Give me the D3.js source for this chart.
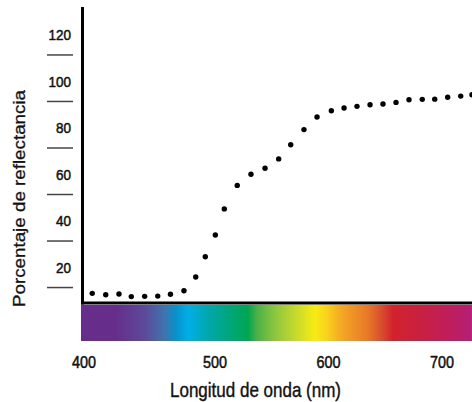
<!DOCTYPE html>
<html><head><meta charset="utf-8">
<script src="https://cdn.jsdelivr.net/npm/d3@7/dist/d3.min.js"></script>
<style>
html,body{margin:0;padding:0;background:#fff;}
svg{display:block;}
</style></head>
<body><svg id="c" width="472" height="402"></svg>
<script>
// ---- data ----
const wavelengths = [406.3,416.6,426.7,436.1,446.3,456.3,466.0,476.3,485.3,492.6,500.3,508.2,519.6,531.7,544.1,556.1,566.7,578.4,589.9,602.5,613.7,625.1,636.6,648.0,659.5,670.9,682.6,693.6,705.0,716.5,726.4];
const reflectance = [8.8,8.2,8.5,7.4,7.5,7.6,8.4,9.9,15.8,24.5,33.9,45.1,55.2,60.0,62.6,66.6,72.7,79.2,84.6,87.3,88.5,89.2,89.9,90.2,90.9,92.0,92.2,92.3,93.1,93.6,94.2];
const xTickValues = [400,500,600,700];
const yTickLabels = [20,40,60,80,100,120];
const yTickLines = [10,30,50,70,90,110];
const spectrumWl = [397.7,423.7,446.6,461.8,469.5,479.4,497,529.1,537,552.9,570.5,588.1,596.9,611.9,633.9,645.4,656.8,680.6,704.4,726.4];
const spectrumColors = ["#662d8a","#662d8a","#5c4a9a","#3f74b0","#0a8fc8","#00aee8","#00a7a5","#00a651","#4cb048","#8dc63f","#c5d92e","#f7ec13","#f9d71c","#f4a623","#e87a28","#d9532e","#d3222d","#c82040","#c11e5a","#b51f75"];

// ---- scales ----
const x = d3.scaleLinear().domain([400,500,700]).range([84,215,442]);
const y = d3.scaleLinear().domain([0,120]).range([313.8,34.7]);

const svg = d3.select("#c");
const font = "'Liberation Sans',Arial,Helvetica,sans-serif";

// spectrum gradient
const defs = svg.append("defs");
const w0 = x(spectrumWl[0]), w1 = x(spectrumWl[spectrumWl.length-1]);
const grad = defs.append("linearGradient").attr("id","spec")
  .attr("gradientUnits","userSpaceOnUse")
  .attr("x1", w0).attr("x2", w1).attr("y1",0).attr("y2",0);
spectrumWl.forEach((w,i)=>{
  grad.append("stop").attr("offset", (x(w)-w0)/(w1-w0)).attr("stop-color", spectrumColors[i]);
});
svg.append("rect").attr("x", w0).attr("y",305).attr("width", w1-w0).attr("height",36).attr("fill","url(#spec)");

// axes lines
svg.append("line").attr("x1",82.5).attr("x2",82.5).attr("y1",7).attr("y2",304.5).attr("stroke","#000").attr("stroke-width",3);
svg.append("line").attr("x1",81).attr("x2",472).attr("y1",303).attr("y2",303).attr("stroke","#000").attr("stroke-width",3);

// y tick lines
svg.selectAll(".yl").data(yTickLines).enter().append("line")
  .attr("x1",47).attr("x2",73)
  .attr("y1",d=>y(d)-3).attr("y2",d=>y(d)-3)
  .attr("stroke","#444").attr("stroke-width",1.5);

// y tick labels
svg.selectAll(".yt").data(yTickLabels).enter().append("text")
  .attr("x",71).attr("y",d=>y(d)).attr("dy","0.36em")
  .attr("text-anchor","end").attr("font-family",font).attr("font-size",15)
  .attr("textLength",d=>String(d).length*7.5).attr("lengthAdjust","spacingAndGlyphs")
  .attr("fill","#111").attr("stroke","#111").attr("stroke-width",0.5)
  .text(d=>d);

// x tick labels
svg.selectAll(".xt").data(xTickValues).enter().append("text")
  .attr("x",d=>x(d)).attr("y",368)
  .attr("text-anchor","middle").attr("font-family",font).attr("font-size",16)
  .attr("textLength",24).attr("lengthAdjust","spacingAndGlyphs")
  .attr("fill","#111").attr("stroke","#111").attr("stroke-width",0.5)
  .text(d=>d);

// titles
svg.append("text").attr("x",255.5).attr("y",397)
  .attr("text-anchor","middle").attr("font-family",font).attr("font-size",21)
  .attr("textLength",171).attr("lengthAdjust","spacingAndGlyphs")
  .attr("fill","#111").attr("stroke","#111").attr("stroke-width",0.4)
  .text("Longitud de onda (nm)");
svg.append("text").attr("transform","translate(24.5,198.5) rotate(-90)")
  .attr("text-anchor","middle").attr("font-family",font).attr("font-size",17)
  .attr("textLength",217).attr("lengthAdjust","spacingAndGlyphs")
  .attr("fill","#111").attr("stroke","#111").attr("stroke-width",0.3)
  .text("Porcentaje de reflectancia");

// dots
svg.selectAll(".dot").data(wavelengths).enter().append("circle")
  .attr("cx",d=>x(d)).attr("cy",(d,i)=>y(reflectance[i])).attr("r",2.7).attr("fill","#000");
</script>
</body></html>
